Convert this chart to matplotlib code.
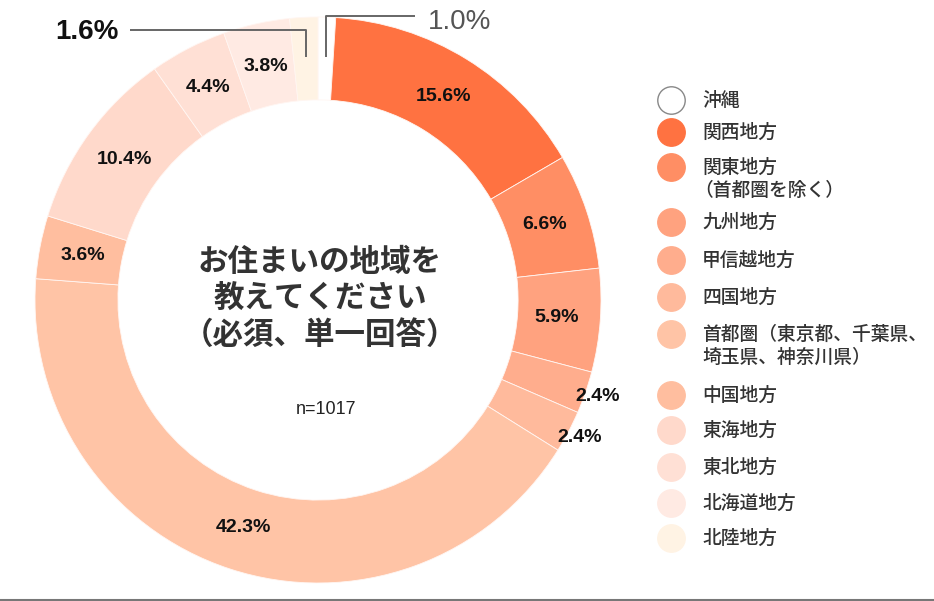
import numpy as np
import matplotlib
matplotlib.use('Agg')
import matplotlib.pyplot as plt

# data
regions = ['沖縄', '関西地方', '関東地方\n（首都圏を除く）', '九州地方', '甲信越地方', '四国地方',
           '首都圏（東京都、千葉県、\n埼玉県、神奈川県）', '中国地方', '東海地方', '東北地方',
           '北海道地方', '北陸地方']
shares = [1.0, 15.6, 6.6, 5.9, 2.4, 2.4, 42.3, 3.6, 10.4, 4.4, 3.8, 1.6]
colors = ['#FFFFFF', '#FF7241', '#FF8E64', '#FFA27F', '#FFAD8D', '#FFBA9C',
          '#FFC4A6', '#FFBE9F', '#FFD9CB', '#FFE0D5', '#FFEAE3', '#FFF3E4']
title = 'お住まいの地域を\n教えてください\n（必須、単一回答）'
n_text = 'n=1017'

CJK = 'Noto Sans CJK JP'
NUM = ['Liberation Sans', 'DejaVu Sans']

W, H = 934, 601
CX, CY, R = 318, 300, 283  # pie centre / radius in pixels


def px(x, y):
    # pixel (from top-left) -> data coords
    return (x - CX) / R, (CY - y) / R


fig = plt.figure(figsize=(W / 100, H / 100), dpi=100)
ax = fig.add_axes([0, 0, 1, 1])
ax.axis('off')

wedges, _ = ax.pie(shares, colors=colors, startangle=90, counterclock=False,
                   radius=1.0, wedgeprops=dict(width=0.293, linewidth=0.6,
                                               edgecolor='#FFF6F2'))
ax.set_xlim(-CX / R, (W - CX) / R)
ax.set_ylim((CY - H) / R, CY / R)
ax.set_aspect('equal')

# slice labels
vals = np.array(shares)
mids = 90 - 360 * (np.cumsum(vals) - vals / 2) / vals.sum()
for i, (v, a) in enumerate(zip(shares, mids)):
    if v < 2.0:
        continue
    r = 1.045 if v < 3.0 else 0.845
    t = np.deg2rad(a)
    ax.text(r * np.cos(t), r * np.sin(t), f'{v:.1f}%', ha='center', va='center',
            fontsize=14, fontweight='bold', family=NUM, color='#111111')

# leader lines for the two tiny slices
small = [(11, -0.664, 0.954, px(87, 32), '#111111', 'bold'),
         (0, 0.343, 1.004, px(460, 22), '#555555', 'normal')]
for idx, xh, yh, (tx, ty), c, fw in small:
    t = np.deg2rad(mids[idx])
    xm = 0.857 * np.cos(t)
    ax.plot([xm, xm, xh], [0.857, yh, yh], color='#666666', lw=1.4,
            solid_capstyle='butt', zorder=5)
    ax.text(tx, ty, f'{shares[idx]:.1f}%', ha='center', va='center',
            fontsize=20, fontweight=fw, family=NUM, color=c)

# centre text
for i, line in enumerate(title.split('\n')):
    x, y = px(320, 262 + 36.5 * i)
    ax.text(x, y, line, ha='center', va='center', fontsize=22,
            fontweight='bold', family=[CJK, 'DejaVu Sans'], color='#333333')
x, y = px(326, 410)
ax.text(x, y, n_text, ha='center', va='center', fontsize=13, family=NUM,
        color='#222222')

# legend
rows = [100, 132, 167, 222, 260, 297, 334, 395, 430, 467, 503, 538]
for lab, col, ry in zip(regions, colors, rows):
    mx, my = px(671, ry)
    ec = '#888888' if col == '#FFFFFF' else col
    ax.scatter([mx], [my], s=390, color=col, edgecolors=ec, linewidths=1.0,
               zorder=4)
    for j, line in enumerate(lab.split('\n')):
        x, y = px(702 - (8 if line.startswith('（') else 0), ry + 23 * j)
        ax.text(x, y, line, ha='left', va='center', fontsize=13.5,
                fontweight='medium', family=[CJK, 'DejaVu Sans'],
                color='#333333')

# bottom rule
ax.plot([(0 - CX) / R, (W - CX) / R], [(CY - 599.5) / R] * 2, color='#777777',
        lw=1.5, solid_capstyle='butt')

fig.savefig('out.png', dpi=100)
